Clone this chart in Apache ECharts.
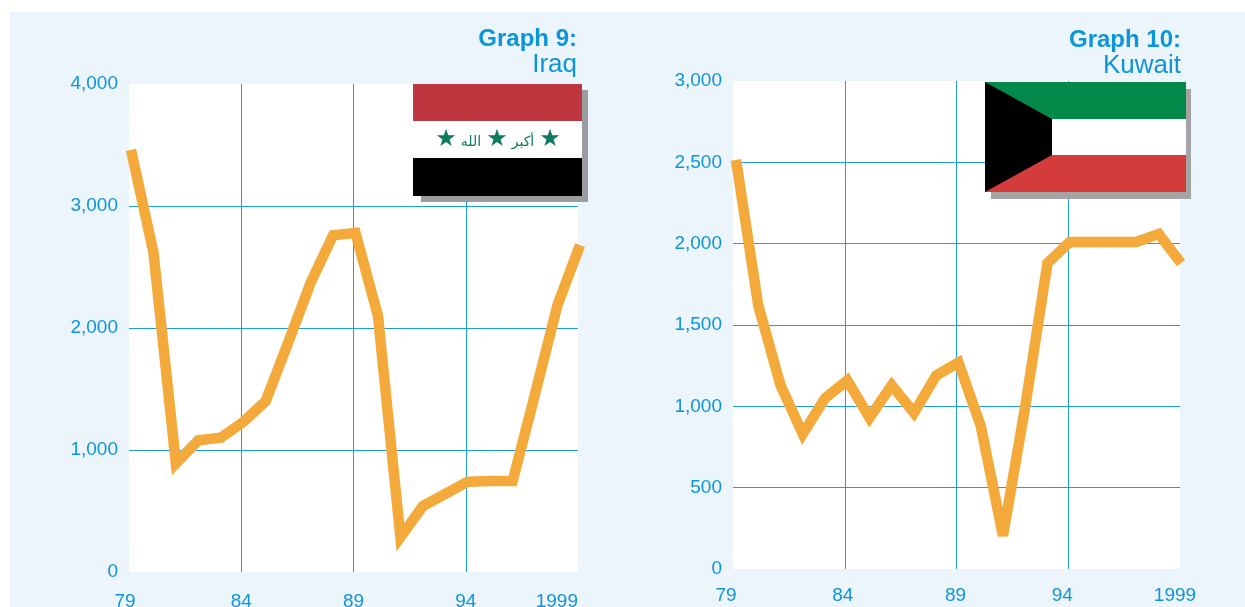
<!DOCTYPE html>
<html><head><meta charset="utf-8">
<style>html,body{margin:0;padding:0;background:#fff;overflow:hidden}#c{position:absolute;left:0;top:0;width:1245px;height:607px}</style>
<script src="https://cdn.jsdelivr.net/npm/echarts@6/dist/echarts.min.js"></script>
</head><body><div id="c"></div>
<script>
const categories = ['79','80','81','82','83','84','85','86','87','88','89','90','91','92','93','94','95','96','97','98','1999'];
const iraqValues = [3460,2620,890,1080,1100,1230,1400,1880,2370,2760,2780,2100,285,540,640,740,745,745,1460,2190,2680];
const kuwaitValues = [2515,1620,1130,830,1050,1160,930,1130,960,1190,1270,880,205,1000,1880,2010,2010,2010,2010,2060,1880];
const BLUE='#0D95D9', GRID='#1E9FDC', ORANGE='#F4A93B', FONT='"Liberation Sans",sans-serif';
const chart = echarts.init(document.getElementById('c'), null, {renderer:'canvas'});
const labelShift=[{'79':8},{'79':14,'84':4,'89':2,'94':12,'1999':10}];
function xA(i){
  const rich={}; Object.keys(labelShift[i]).forEach(k=>{rich['s'+k]={padding:[0,labelShift[i][k],0,0]};});
  return {type:'category',gridIndex:i,data:categories,boundaryGap:false,
  axisLine:{show:false},axisTick:{show:false},
  axisLabel:{color:BLUE,fontFamily:FONT,fontSize:19,margin:i?17:20,interval:4,alignMaxLabel:i?null:'right',rich,
    formatter:v=>labelShift[i][v]?`{s${v}|${v}}`:v},
  splitLine:{show:true,interval:(n)=>n%5===0&&n!==0&&n!==20,lineStyle:{color:GRID,width:1}}};}
function yA(i,max,step){return {type:'value',gridIndex:i,min:0,max:max,interval:step,
  axisLine:{show:false},axisTick:{show:false},
  axisLabel:{color:BLUE,fontFamily:FONT,fontSize:19,margin:11,padding:[0,0,3,0],formatter:v=>v.toLocaleString('en-US')},
  splitLine:{show:true,showMinLine:false,showMaxLine:false,lineStyle:{color:GRID,width:1}}};}
function hiddenX(i){return {type:'category',gridIndex:i,data:categories,boundaryGap:false,show:false};}
function hiddenY(i,max){return {type:'value',gridIndex:i,min:0,max:max,show:false,splitLine:{show:false}};}
function line(i,d){return {type:'line',xAxisIndex:i,yAxisIndex:i,data:d,symbol:'none',silent:true,clip:false,
  lineStyle:{color:ORANGE,width:10.5,join:'miter',miterLimit:4,cap:'butt'}};}
const r=(x,y,w,h,f,z=100)=>({type:'rect',shape:{x,y,width:w,height:h},style:{fill:f},z});
const t=(x,y,s,size,o={})=>({type:'text',x,y,z:101,style:Object.assign({text:s,font:size+'px "Liberation Sans"',fill:BLUE,align:'right',verticalAlign:'middle'},o)});
const g=[
 r(10,12,1235,595,'#EDF5FC',-5),
 t(577,39,'Graph 9:',24,{font:'bold 24px "Liberation Sans"'}),
 t(577,65,'Iraq',26),
 t(1181,40,'Graph 10:',24,{font:'bold 24px "Liberation Sans"'}),
 t(1181,66,'Kuwait',26),
 r(421,90,167,112,'#9B9CA0'),
 r(413,84,169,37,'#BF363E'), r(413,121,169,37,'#FFFFFF'), r(413,158,169,38,'#000000'),
 t(446,140,'★',24,{fill:'#0E7A5E',align:'center',font:'24px "DejaVu Sans"'}),
 t(497,140,'★',24,{fill:'#0E7A5E',align:'center',font:'24px "DejaVu Sans"'}),
 t(550,140,'★',24,{fill:'#0E7A5E',align:'center',font:'24px "DejaVu Sans"'}),
 t(471,142,'الله',14,{fill:'#0E7A5E',align:'center',font:'14px "DejaVu Sans"'}),
 t(523,142,'أكبر',14,{fill:'#0E7A5E',align:'center',font:'14px "DejaVu Sans"'}),
 r(991,89,200,110,'#A4A4A4'),
 r(985,82,201,37,'#03894A'), r(985,119,201,36,'#FFFFFF'), r(985,155,201,37,'#D43C3B'),
 {type:'polygon',z:101,shape:{points:[[985,82],[1052,119],[1052,155],[985,192]]},style:{fill:'#000'}}
];
chart.setOption({animation:false,backgroundColor:'transparent',
 graphic:{elements:g},
 grid:[{left:129,top:84,width:449,height:488,outerBoundsMode:'none',show:true,backgroundColor:'#fff',borderWidth:0},
       {left:733,top:81,width:447,height:488,outerBoundsMode:'none',show:true,backgroundColor:'#fff',borderWidth:0},
       {left:131,top:84,width:449,height:488,outerBoundsMode:'none'},
       {left:736,top:81,width:445,height:488,outerBoundsMode:'none'}],
 xAxis:[xA(0),xA(1),hiddenX(2),hiddenX(3)],yAxis:[yA(0,4000,1000),yA(1,3000,500),hiddenY(2,4000),hiddenY(3,3000)],
 series:[line(2,iraqValues),line(3,kuwaitValues)]});
</script></body></html>
